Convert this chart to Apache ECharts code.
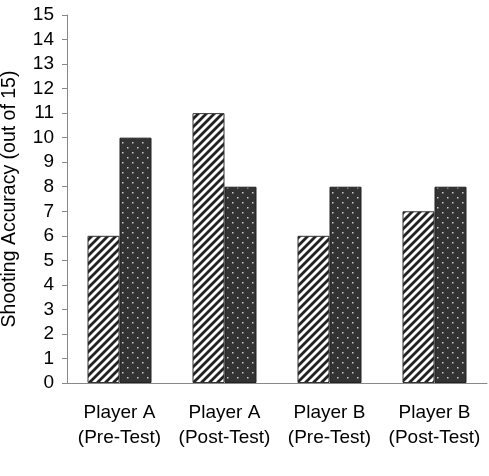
<!DOCTYPE html>
<html>
<head>
<meta charset="utf-8">
<script src="https://cdn.jsdelivr.net/npm/echarts@6/dist/echarts.min.js"></script>
<style>
  html, body { margin: 0; padding: 0; background: #fff; }
  #main { width: 489px; height: 476px; }
</style>
</head>
<body>
<div id="main"></div>
<script>
// data
var categories = ['Player A\n(Pre-Test)', 'Player A\n(Post-Test)', 'Player B\n(Pre-Test)', 'Player B\n(Post-Test)'];
var hatchedValues = [6, 11, 6, 7];
var dottedValues = [10, 8, 8, 8];

// diagonal stripe fill
function stripePattern() {
    var c = document.createElement('canvas');
    c.width = 8; c.height = 8;
    var ctx = c.getContext('2d');
    ctx.fillStyle = '#fff';
    ctx.fillRect(0, 0, 8, 8);
    ctx.strokeStyle = '#222';
    ctx.lineWidth = 2.8;
    ctx.beginPath();
    ctx.moveTo(-2, 10); ctx.lineTo(10, -2);
    ctx.moveTo(-6, 6); ctx.lineTo(6, -6);
    ctx.moveTo(2, 14); ctx.lineTo(14, 2);
    ctx.stroke();
    return c;
}

// dark fill with small light dots
function dotPattern() {
    var c = document.createElement('canvas');
    c.width = 10; c.height = 10;
    var ctx = c.getContext('2d');
    ctx.fillStyle = '#333';
    ctx.fillRect(0, 0, 10, 10);
    ctx.fillStyle = '#ccc';
    ctx.fillRect(2, 2, 1.5, 1.5);
    ctx.fillRect(7, 7, 1.5, 1.5);
    return c;
}

var chart = echarts.init(document.getElementById('main'));
var font = 'Liberation Sans';

var option = {
    animation: false,
    grid: {left: 67, right: 2, top: 15, bottom: 93, outerBoundsMode: 'none'},
    xAxis: {
        type: 'category',
        data: categories,
        axisLine: {lineStyle: {color: '#888', width: 1}},
        axisTick: {length: 5, lineStyle: {color: '#888'}},
        axisLabel: {
            color: '#000', fontSize: 19, fontFamily: font, lineHeight: 25, margin: 17,
            interval: 0, hideOverlap: false
        }
    },
    yAxis: {
        type: 'value',
        min: 0, max: 15, interval: 1,
        name: 'Shooting Accuracy (out of 15)',
        nameLocation: 'middle',
        nameGap: 47,
        nameTextStyle: {color: '#000', fontSize: 19.5, fontFamily: font},
        axisLine: {show: true, lineStyle: {color: '#888', width: 1}},
        axisTick: {show: true, length: 5, lineStyle: {color: '#888'}},
        splitLine: {show: false},
        axisLabel: {color: '#000', fontSize: 19, fontFamily: font, margin: 13}
    },
    series: [
        {
            type: 'bar',
            data: hatchedValues,
            barWidth: 32,
            barGap: 0,
            itemStyle: {
                color: {image: stripePattern(), repeat: 'repeat'},
                borderColor: '#333',
                borderWidth: 1
            }
        },
        {
            type: 'bar',
            data: dottedValues,
            barWidth: 32,
            barGap: 0,
            itemStyle: {
                color: {image: dotPattern(), repeat: 'repeat'},
                borderColor: '#222',
                borderWidth: 1
            }
        }
    ]
};
chart.setOption(option);
</script>
</body>
</html>
